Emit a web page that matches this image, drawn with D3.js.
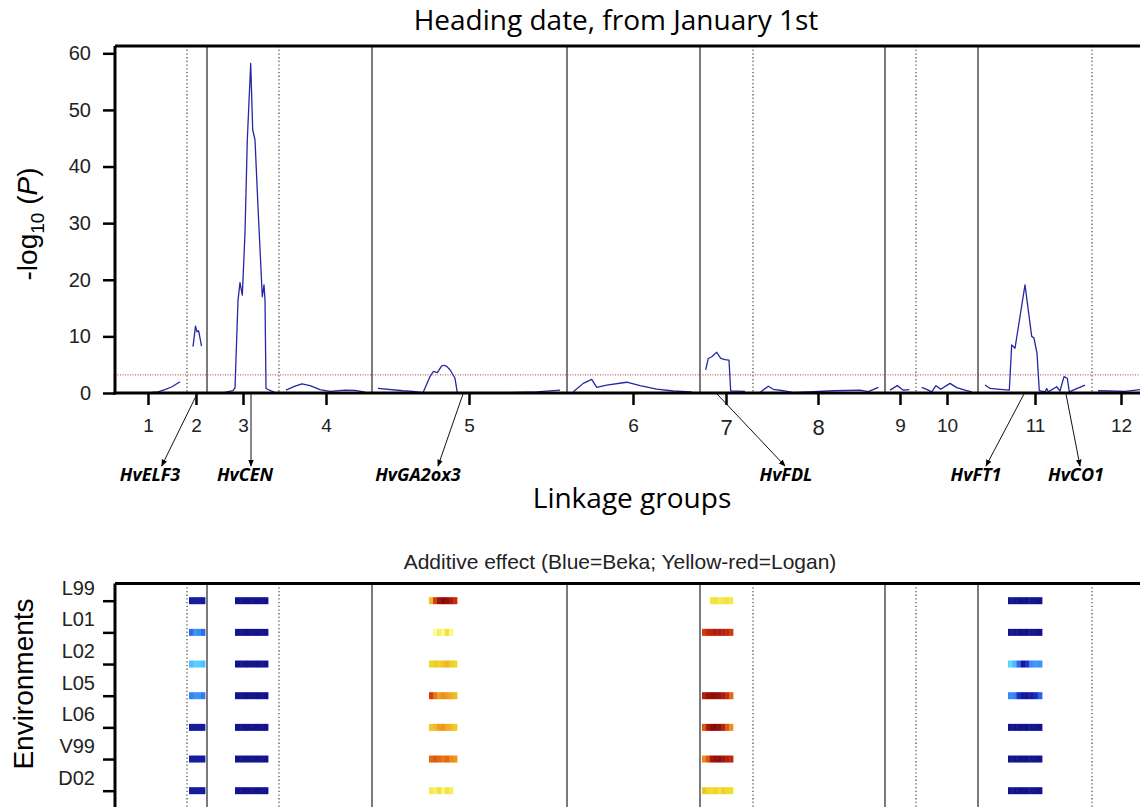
<!DOCTYPE html>
<meta charset="utf-8">
<style>
  body { margin: 0; background: #fff; }
  .ax { font-family: "Liberation Sans", Arial, sans-serif; }
  .cal { font-family: "Open Sans", sans-serif; }
</style>
<body>
<div id="chart"></div>
<script src="https://d3js.org/d3.v7.min.js"></script>
<script>

// ---- data ----
var lgNames  = ["1","2","3","4","5","6","7","8","9","10","11","12"];
var lgTicks  = [33, 81, 128, 211, 354, 518, 611, 703, 785, 832, 920, 1006];
var solidBreaks  = [92, 257, 452, 585, 770, 863];
var dottedBreaks = [72, 164, 638, 801, 977];
var threshold = 3.2;

// -log10(P) profile, one list per linkage group: [position, value]
var lg1  = [[37,0.1],[43,0.2],[50,0.6],[57,1.1],[65,2.0]];
var lg2  = [[78,8.2],[80.5,11.8],[82,10.8],[83.5,11.0],[84.5,10.2],[86.5,8.3]];
var lg3  = [[98,0.05],[110,0.1],[118,0.4],[120,0.9],[123,16.4],[125,19.5],[127.3,17.3],[130,28.2],
            [132.3,44.7],[135.7,58.2],[137.7,46.5],[140,44.7],[143.3,31.7],[147.3,17.0],[149,19.1],
            [150,16.4],[151,0.8],[158.3,0.2],[160,0.05]];
var lg4  = [[171,0.5],[180,1.2],[187,1.6],[195,1.3],[205,0.6],[215,0.3],[230,0.5],[240,0.45],[250,0.15]];
var lg5  = [[263,0.8],[288,0.4],[298,0.3],[308,0.05],[315,2.9],[318.3,3.8],[322.3,3.6],[326.7,4.8],
            [329,4.9],[331.7,4.7],[335,4.1],[340,2.6],[342.3,0.05],[380,0],[421.7,0.2],[445,0.5]];
var lg6  = [[458.3,0.2],[468.3,1.7],[476.7,2.4],[481.7,1.0],[491.7,1.4],[511.7,1.9],[525,1.3],
            [541.7,0.7],[558.3,0.35],[576.7,0.18]];
var lg7  = [[590.7,4.1],[593.3,6.1],[596.7,6.4],[601.7,7.2],[605.7,6.1],[610,5.9],[614,5.8],[615.7,0.35],[630,0.3]];
var lg8  = [[645,0.1],[653.3,1.2],[658.3,0.65],[668.3,0.4],[678.3,0.05],[718.3,0.4],[745,0.5],[753.3,0.25],[763.3,1.0]];
var lg9  = [[775,0.5],[782.3,1.3],[788.3,0.5],[794.3,0.6]];
var lg10 = [[806.7,1.0],[811.7,0.65],[816.7,0.2],[821,1.3],[825.7,0.65],[835,1.7],[841.7,0.95],[850,0.5],[856.7,0.2]];
var lg11 = [[870,1.4],[875,0.8],[885,0.65],[894.3,0.5],[896.7,8.5],[900,7.9],[910,19.1],[916.7,10.0],
            [919,9.7],[922,7.0],[924.3,0.4],[930,0.2],[931.7,0.8],[933.3,0.2],[941.7,1.1],[945,0.35],
            [949,2.9],[952.3,2.6],[954.3,0.2],[960,0.65],[970,1.4]];
var lg12 = [[983,0.4],[995,0.35],[1010,0.3],[1025,0.6]];
var profiles = [lg1, lg2, lg3, lg4, lg5, lg6, lg7, lg8, lg9, lg10, lg11, lg12];

// candidate genes: locus on axis, arrow tip, label centre
var geneNames  = ["HvELF3", "HvCEN", "HvGA2ox3", "HvFDL", "HvFT1", "HvCO1"];
var geneLocus  = [82, 136, 348, 602, 909, 951];
var geneTip    = [46.7, 136, 323, 670, 871, 965];
var geneLabel  = [35, 130, 303, 671, 861, 961];

// additive effects (negative = Beka, positive = Logan), cells along each QTL
var envs = ["L99","L01","L02","L05","L06","V99","D02"];
var qtlStart = [74, 120, 314, 587, 893];
var qtlEnd   = [90, 153, 342, 618, 927];
var effLG2 = [
  [-4.5,-4.5,-4.5,-4.5],
  [-2.2,-1.6,-1.7,-2.2],
  [-1.0,-0.8,-0.8,-1.0],
  [-1.8,-1.6,-1.6,-1.9],
  [-4.5,-4.5,-4.5,-4.5],
  [-4.5,-4.5,-4.5,-4.5],
  [-4.5,-4.5,-4.5,-4.5]];
var effLG3 = [
  [-5,-5,-5,-5,-5,-5],
  [-5,-5,-5,-5,-5,-5],
  [-5,-5,-5,-5,-5,-5],
  [-5,-5,-5,-5,-5,-5],
  [-5,-5,-5,-5,-5,-5],
  [-5,-5,-5,-5,-5,-5],
  [-5,-5,-5,-5,-5,-5]];
var effLG5 = [
  [1.8,3.5,4.6,5.0,4.8,4.4,3.8],
  [null,0.4,0.8,0.5,1.1,0.5,null],
  [1.3,1.5,1.4,1.6,1.9,1.5,1.3],
  [3.6,2.8,2.2,2.5,2.3,2.0,1.8],
  [1.6,1.8,2.2,2.4,2.0,1.8,1.5],
  [3.0,3.2,3.0,2.8,3.0,2.6,2.4],
  [0.9,0.7,1.1,0.6,1.0,0.8,null]];
var effLG7 = [
  [null,null,1.0,1.1,0.9,1.0,1.1,0.9],
  [3.6,3.9,4.1,4.3,4.3,4.2,4.0,3.6],
  [null,null,null,null,null,null,null,null],
  [4.2,4.7,4.9,4.9,4.7,4.4,3.8,3.0],
  [3.2,4.4,4.9,5.0,4.8,4.2,3.2,2.5],
  [2.6,3.2,4.5,4.8,4.9,4.6,4.3,4.0],
  [1.6,1.3,1.2,1.4,1.1,1.5,1.3,1.2]];
var effLG11 = [
  [-5,-5,-5,-5,-5,-5,-5,-5],
  [-5,-5,-5,-5,-5,-5,-5,-5],
  [-0.7,-1.1,-2.2,-4.6,-3.4,-1.7,-1.5,-1.6],
  [-1.7,-1.8,-3.5,-4.6,-4.6,-4.5,-3.8,-2.4],
  [-5,-5,-5,-5,-5,-5,-5,-5],
  [-5,-5,-5,-5,-5,-5,-5,-5],
  [-5,-5,-5,-5,-5,-5,-5,-5]];
var effects = [effLG2, effLG3, effLG5, effLG7, effLG11];

// ---- layout ----
var W = 1140, H = 807;
var left = 115, right = 1140;

var svg = d3.select("#chart").append("svg")
    .attr("width", W).attr("height", H);

var x = d3.scaleLinear().domain([0, 1025]).range([left, right]);
var y = d3.scaleLinear().domain([0, 60]).range([393, 53.3]);
var top1 = 46;

svg.append("defs").append("marker")
    .attr("id", "arr")
    .attr("viewBox", "0 0 10 10")
    .attr("refX", 9).attr("refY", 5)
    .attr("markerWidth", 7).attr("markerHeight", 7)
    .attr("orient", "auto")
  .append("path")
    .attr("d", "M0,1 L10,5 L0,9 z")
    .attr("fill", "#000");

// title
svg.append("text")
    .attr("class", "cal")
    .attr("x", 616).attr("y", 30)
    .attr("text-anchor", "middle")
    .attr("font-size", 28)
    .text("Heading date, from January 1st");

// chromosome separators
function breaks(g, y0, y1) {
  g.selectAll(".solid").data(solidBreaks).enter().append("line")
      .attr("x1", function(d) { return x(d); }).attr("x2", function(d) { return x(d); })
      .attr("y1", y0).attr("y2", y1)
      .attr("stroke", "#333").attr("stroke-width", 1.3);
  g.selectAll(".dot").data(dottedBreaks).enter().append("line")
      .attr("x1", function(d) { return x(d); }).attr("x2", function(d) { return x(d); })
      .attr("y1", y0).attr("y2", y1)
      .attr("stroke", "#555").attr("stroke-width", 1.3)
      .attr("stroke-dasharray", "1.3,2.4");
}
breaks(svg.append("g"), top1, y(0));

// threshold
svg.append("line")
    .attr("x1", left).attr("x2", right)
    .attr("y1", y(threshold)).attr("y2", y(threshold))
    .attr("stroke", "#b03a3a").attr("stroke-width", 1)
    .attr("stroke-dasharray", "1,1.5");

// profiles
var line = d3.line()
    .x(function(d) { return x(d[0]); })
    .y(function(d) { return y(d[1]); });
svg.selectAll(".prof").data(profiles).enter().append("path")
    .attr("d", line)
    .attr("fill", "none")
    .attr("stroke", "#2626a6")
    .attr("stroke-width", 1.3)
    .attr("stroke-linejoin", "round");

// frame + axes
svg.append("line").attr("x1", left).attr("x2", right).attr("y1", top1).attr("y2", top1)
    .attr("stroke", "#000").attr("stroke-width", 3);

var yAxis = svg.append("g")
    .attr("class", "ax")
    .attr("transform", "translate(" + left + ",0)")
    .call(d3.axisLeft(y).tickValues([0,10,20,30,40,50,60]).tickSize(12).tickPadding(12));
yAxis.select(".domain").attr("d", "M0," + top1 + "V" + (y(0) + 1.5)).attr("stroke-width", 3);
yAxis.selectAll(".tick line").attr("stroke-width", 2.5);
yAxis.selectAll("text").attr("font-size", 20).attr("font-family", "Liberation Sans, Arial, sans-serif")
    .attr("fill", "#222");

var xAxis = svg.append("g")
    .attr("class", "ax")
    .attr("transform", "translate(0," + y(0) + ")")
    .call(d3.axisBottom(x).tickValues(lgTicks).tickSize(12).tickPadding(14)
          .tickFormat(function(d, i) { return lgNames[i]; }));
xAxis.select(".domain").attr("d", "M" + (left - 1.5) + ",0H" + right).attr("stroke-width", 3);
xAxis.selectAll(".tick line").attr("stroke-width", 2.5);
xAxis.selectAll("text")
    .attr("font-family", "Liberation Sans, Arial, sans-serif")
    .attr("fill", "#222")
    .attr("font-size", function(d, i) { return (i == 6 || i == 7) ? 22 : 19; });

// y label
var yl = svg.append("text")
    .attr("class", "ax")
    .attr("transform", "translate(37,224) rotate(-90)")
    .attr("text-anchor", "middle")
    .attr("font-size", 28);
yl.append("tspan").text("-log");
yl.append("tspan").attr("font-size", 19).attr("dy", 7).text("10");
yl.append("tspan").attr("dy", -7).text(" (");
yl.append("tspan").attr("font-style", "italic").text("P");
yl.append("tspan").text(")");

// gene arrows
svg.selectAll(".garrow").data(geneNames).enter().append("line")
    .attr("x1", function(d, i) { return x(geneLocus[i]); })
    .attr("y1", 394)
    .attr("x2", function(d, i) { return x(geneTip[i]); })
    .attr("y2", 466)
    .attr("stroke", "#111").attr("stroke-width", 1)
    .attr("marker-end", "url(#arr)");
svg.selectAll(".glabel").data(geneNames).enter().append("text")
    .attr("class", "cal")
    .attr("x", function(d, i) { return x(geneLabel[i]); })
    .attr("y", 481)
    .attr("text-anchor", "middle")
    .attr("font-size", 18)
    .attr("font-weight", "bold")
    .attr("font-style", "italic")
    .text(function(d) { return d; });

svg.append("text")
    .attr("class", "cal")
    .attr("x", 632).attr("y", 508)
    .attr("text-anchor", "middle")
    .attr("font-size", 28)
    .text("Linkage groups");

// ---- bottom panel: additive effects ----
var top2 = 583.5;
var ey = d3.scalePoint().domain(envs).range([600.7, 790.7]);

svg.append("text")
    .attr("class", "ax")
    .attr("x", 620).attr("y", 569)
    .attr("text-anchor", "middle")
    .attr("font-size", 21)
    .attr("fill", "#222")
    .text("Additive effect (Blue=Beka; Yellow-red=Logan)");

breaks(svg.append("g"), top2, H);

var negCol = d3.scaleLinear().domain([-5, -3.5, -2, -0.6])
    .range(["#13138c", "#1a2fc8", "#2f74f0", "#62dcff"]).clamp(true);
var posCol = d3.scaleLinear().domain([0.3, 1.2, 2.5, 3.8, 5])
    .range(["#ffffa6", "#f0de2c", "#ee8f1c", "#cc2a0c", "#8a0a0a"]).clamp(true);
function effColor(v) { return v < 0 ? negCol(v) : posCol(v); }

var cells = [];
effects.forEach(function(m, q) {
  m.forEach(function(row, e) {
    var n = row.length, w = (qtlEnd[q] - qtlStart[q]) / n;
    row.forEach(function(v, k) {
      if (v !== null) cells.push({q: q, env: envs[e], a: qtlStart[q] + k * w, b: qtlStart[q] + (k + 1) * w, v: v});
    });
  });
});
svg.selectAll(".cell").data(cells).enter().append("rect")
    .attr("x", function(d) { return x(d.a); })
    .attr("width", function(d) { return x(d.b) - x(d.a) + 0.4; })
    .attr("y", function(d) { return ey(d.env) - 3.5; })
    .attr("height", 7)
    .attr("fill", function(d) { return effColor(d.v); });

svg.append("line").attr("x1", left).attr("x2", right).attr("y1", top2).attr("y2", top2)
    .attr("stroke", "#000").attr("stroke-width", 3);

var eAxis = svg.append("g")
    .attr("class", "ax")
    .attr("transform", "translate(" + left + ",0)")
    .call(d3.axisLeft(ey).tickSize(12).tickPadding(8));
eAxis.select(".domain").attr("d", "M0," + top2 + "V" + H).attr("stroke-width", 3);
eAxis.selectAll(".tick line").attr("stroke-width", 2.5);
eAxis.selectAll("text")
    .attr("font-family", "Liberation Sans, Arial, sans-serif")
    .attr("font-size", 20)
    .attr("fill", "#222")
    .attr("dy", "-0.32em");

svg.append("text")
    .attr("class", "ax")
    .attr("transform", "translate(33,684) rotate(-90)")
    .attr("text-anchor", "middle")
    .attr("font-size", 28)
    .text("Environments");

</script>
</body>
